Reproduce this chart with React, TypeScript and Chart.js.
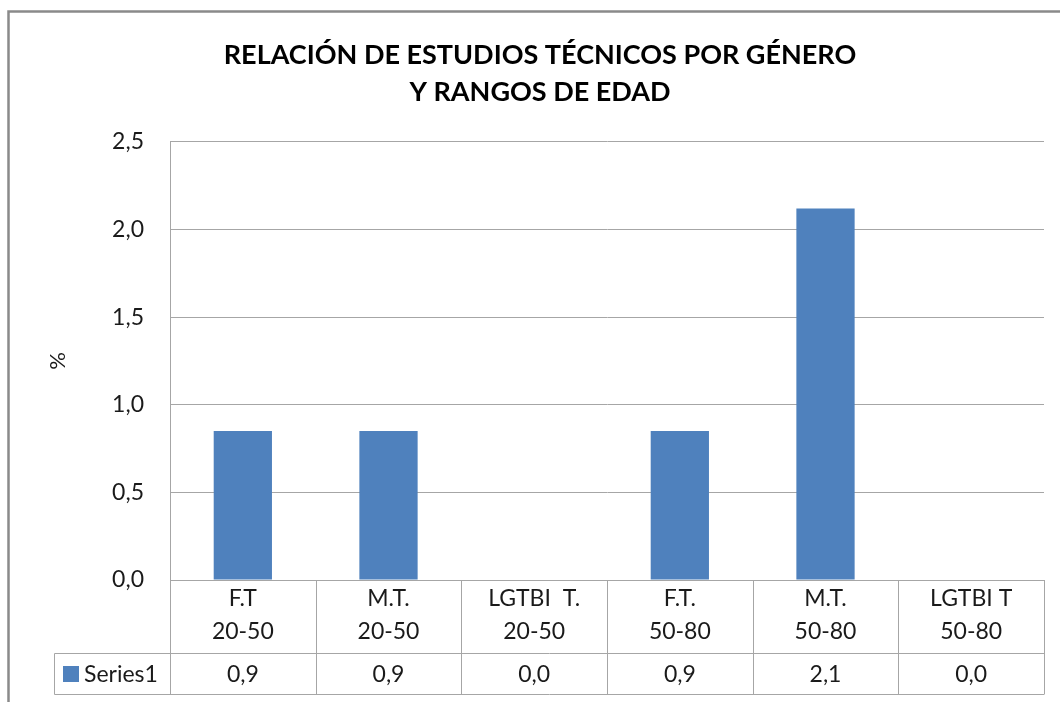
import React, { useEffect, useRef } from 'react';
import { Chart, registerables } from 'chart.js';

Chart.register(...registerables);

const titleLines = ['RELACIÓN DE ESTUDIOS TÉCNICOS POR GÉNERO', 'Y RANGOS DE EDAD'];
const categories: string[][] = [
  ['F.T', '20-50'],
  ['M.T.', '20-50'],
  ['LGTBI  T.', '20-50'],
  ['F.T.', '50-80'],
  ['M.T.', '50-80'],
  ['LGTBI T', '50-80'],
];
const seriesName = 'Series1';
const seriesValues = [0.85, 0.85, 0, 0.85, 2.12, 0];
const yAxisTitle = '%';
const yMin = 0;
const yMax = 2.5;
const yStep = 0.5;

const BAR_COLOR = '#4F81BD';
const GRID_COLOR = '#a6a6a6';
const FONT = 'Lato, "Open Sans", sans-serif';

const fmt = (v: number) => (Math.round(v * 10) / 10).toFixed(1).replace('.', ',');

const framePlugin = {
  id: 'frame',
  beforeDraw(chart: any) {
    const { ctx } = chart;
    ctx.save();
    ctx.fillStyle = '#ffffff';
    ctx.fillRect(0, 0, chart.width, chart.height);
    ctx.strokeStyle = '#8a8a8a';
    ctx.lineWidth = 2.5;
    ctx.beginPath();
    ctx.moveTo(8.5, chart.height);
    ctx.lineTo(8.5, 11.5);
    ctx.lineTo(chart.width, 11.5);
    ctx.stroke();
    ctx.restore();
  },
};

const tablePlugin = {
  id: 'dataTable',
  afterDraw(chart: any) {
    const { ctx, chartArea, scales } = chart;
    const x = scales.x;
    const labels = chart.data.labels as string[][];
    const values = chart.data.datasets[0].data as number[];
    const n = labels.length;
    const half = (x.getPixelForValue(1) - x.getPixelForValue(0)) / 2;
    const top = chartArea.bottom;
    const mid = top + 73;
    const bot = top + 114;
    const legendLeft = 54;
    const snap = (v: number) => Math.round(v) + 0.5;

    ctx.save();
    ctx.strokeStyle = GRID_COLOR;
    ctx.lineWidth = 1;
    ctx.beginPath();
    for (let i = 0; i <= n; i++) {
      const px = snap(x.getPixelForValue(i) - half);
      ctx.moveTo(px, top);
      ctx.lineTo(px, bot);
    }
    ctx.moveTo(snap(legendLeft), snap(mid));
    ctx.lineTo(snap(x.getPixelForValue(n - 1) + half), snap(mid));
    ctx.moveTo(snap(legendLeft), snap(bot));
    ctx.lineTo(snap(x.getPixelForValue(n - 1) + half), snap(bot));
    ctx.moveTo(snap(legendLeft), snap(mid));
    ctx.lineTo(snap(legendLeft), snap(bot));
    ctx.stroke();

    ctx.fillStyle = '#1a1a1a';
    ctx.font = `23px ${FONT}`;
    ctx.textAlign = 'center';
    ctx.textBaseline = 'middle';
    for (let i = 0; i < n; i++) {
      const cx = x.getPixelForValue(i);
      const lines = labels[i];
      ctx.fillText(lines[0], cx, top + 19);
      ctx.fillText(lines[1], cx, top + 52);
      ctx.fillText(fmt(values[i]), cx, mid + 22);
    }
    ctx.fillStyle = BAR_COLOR;
    ctx.fillRect(legendLeft + 9, mid + 13, 16, 16);
    ctx.fillStyle = '#1a1a1a';
    ctx.textAlign = 'left';
    ctx.fillText(seriesName, legendLeft + 30, mid + 22);
    ctx.restore();
  },
};

export default function App() {
  const ref = useRef<HTMLCanvasElement | null>(null);

  useEffect(() => {
    if (!ref.current) return;
    const chart = new Chart(ref.current, {
      type: 'bar',
      data: {
        labels: categories as any,
        datasets: [
          {
            label: seriesName,
            data: seriesValues,
            backgroundColor: BAR_COLOR,
            borderWidth: 0,
            barPercentage: 0.4,
            categoryPercentage: 1,
          },
        ],
      },
      options: {
        responsive: false,
        animation: false,
        layout: { padding: { top: 0, left: 36, right: 16, bottom: 122 } },
        plugins: {
          legend: { display: false },
          tooltip: { enabled: false },
          title: {
            display: true,
            text: titleLines,
            color: '#000000',
            font: { family: FONT, size: 27, weight: 'bold', lineHeight: 1.37 },
            padding: { top: 37, bottom: 31 },
          },
        },
        scales: {
          x: {
            display: false,
            offset: true,
          },
          y: {
            min: yMin,
            max: yMax,
            afterFit: (scale: any) => {
              scale.width = 134;
            },
            ticks: {
              stepSize: yStep,
              padding: 26,
              color: '#1a1a1a',
              font: { family: FONT, size: 23 },
              callback: (v: any) => fmt(Number(v)),
            },
            grid: { color: GRID_COLOR, drawTicks: false },
            border: { color: GRID_COLOR },
            title: {
              display: true,
              text: yAxisTitle,
              color: '#1a1a1a',
              font: { family: FONT, size: 22 },
              padding: { top: 9, bottom: 0 },
            },
          },
        },
      },
      plugins: [framePlugin, tablePlugin],
    });
    return () => chart.destroy();
  }, []);

  return (
    <div style={{ position: 'absolute', left: 0, top: 0, width: 1060, height: 702 }}>
      <canvas ref={ref} width={1060} height={702} style={{ width: 1060, height: 702 }} />
    </div>
  );
}
